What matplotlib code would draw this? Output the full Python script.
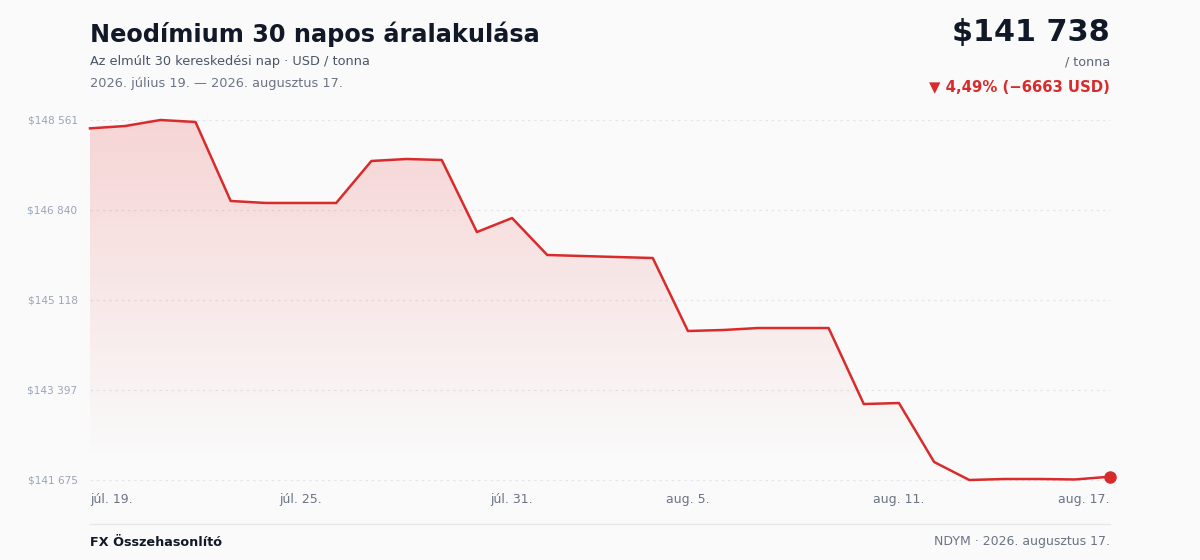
import numpy as np
import matplotlib.pyplot as plt
from matplotlib.patches import Polygon

# 30 trading days, USD / tonne
dates = ["júl. 19.", "júl. 20.", "júl. 21.", "júl. 22.", "júl. 23.", "júl. 24.",
         "júl. 25.", "júl. 26.", "júl. 27.", "júl. 28.", "júl. 29.", "júl. 30.",
         "júl. 31.", "aug. 1.", "aug. 2.", "aug. 3.", "aug. 4.", "aug. 5.",
         "aug. 6.", "aug. 7.", "aug. 8.", "aug. 9.", "aug. 10.", "aug. 11.",
         "aug. 12.", "aug. 13.", "aug. 14.", "aug. 15.", "aug. 16.", "aug. 17."]
prices = [148401, 148446, 148561, 148523, 147012, 146974, 146974, 146974,
          147777, 147815, 147796, 146418, 146686, 145979, 145959, 145940,
          145921, 144525, 144544, 144582, 144582, 144582, 143128, 143147,
          142019, 141675, 141694, 141694, 141685, 141738]
tick_idx = [0, 6, 12, 17, 23, 29]
y_ticks = [141675, 143397, 145118, 146840, 148561]

RED = "#d92b2b"
BG = "#fafafa"
DARK = "#111827"
GRAY = "#5b6477"
LIGHT = "#9aa5b8"

fig = plt.figure(figsize=(12, 5.6), dpi=100, facecolor=BG)
ax = fig.add_axes([0.075, 1 - 480 / 560, 0.85, 360 / 560])
ax.set_facecolor(BG)

x = np.arange(len(prices))
lo, hi = min(prices), max(prices)
ax.set_xlim(0, len(prices) - 1)
ax.set_ylim(lo, hi)

# gradient fill under the line, fading out near the bottom
grad = np.zeros((256, 1, 4))
grad[:, 0, :3] = (0.9, 0.2, 0.2)
alpha = np.clip(np.linspace(0.19, -0.012, 256), 0, None)
grad[:, 0, 3] = alpha
img = ax.imshow(grad, aspect="auto", extent=[0, len(prices) - 1, lo, hi],
                origin="upper", zorder=1)
poly = Polygon(np.column_stack([np.r_[x, x[-1], 0], np.r_[prices, lo, lo]]),
               closed=True, transform=ax.transData, facecolor="none", edgecolor="none")
ax.add_patch(poly)
img.set_clip_path(poly)

for v in y_ticks:
    ax.axhline(v, color="#e3e5ea", lw=0.9, ls=(0, (2, 3)), zorder=0.5, clip_on=False)

ax.plot(x, prices, color=RED, lw=1.8, zorder=3, clip_on=False, solid_joinstyle="round")
ax.plot(x[-1], prices[-1], "o", color=RED, ms=8, zorder=4, clip_on=False)

for s in ax.spines.values():
    s.set_visible(False)
ax.set_yticks(y_ticks)
ax.set_yticklabels([f"${v:,}".replace(",", " ") for v in y_ticks], color=LIGHT, fontsize=7.6)
ax.tick_params(axis="y", length=0, pad=9)
ax.set_xticks(tick_idx)
ax.set_xticklabels([dates[i] for i in tick_idx], color="#6b7385", fontsize=9)
ax.tick_params(axis="x", length=0, pad=9)
labels = ax.get_xticklabels()
labels[0].set_ha("left")
labels[-1].set_ha("right")

# header
fig.text(90 / 1200, 1 - 34 / 560, "Neodímium 30 napos áralakulása", fontsize=17.3,
         fontweight="bold", color=DARK, va="center")
fig.text(90 / 1200, 1 - 62 / 560, "Az elmúlt 30 kereskedési nap · USD / tonna",
         fontsize=9.3, color="#4b5568", va="center")
fig.text(90 / 1200, 1 - 84 / 560, "2026. július 19. — 2026. augusztus 17.",
         fontsize=9.3, color="#6b7385", va="center")
fig.text(1110 / 1200, 1 - 33 / 560, f"${prices[-1]:,}".replace(",", " "), fontsize=21.8,
         fontweight="bold", color=DARK, ha="right", va="center")
fig.text(1110 / 1200, 1 - 62 / 560, "/ tonna", fontsize=9.2, color=GRAY, ha="right", va="center")
change = prices[-1] - prices[0]
pct = change / prices[0] * 100
fig.text(1110 / 1200, 1 - 87 / 560,
         f"▼ {abs(pct):.2f}% (−{abs(change)} USD)".replace(".", ","),
         fontsize=10.7, fontweight="bold", color=RED, ha="right", va="center")

# footer
fig.add_artist(plt.Line2D([90 / 1200, 1110 / 1200], [1 - 524 / 560] * 2,
                          color="#e5e7eb", lw=1))
fig.text(90 / 1200, 1 - 542 / 560, "FX Összehasonlító", fontsize=9.2, fontweight="bold",
         color=DARK, va="center")
fig.text(1110 / 1200, 1 - 542 / 560, "NDYM · 2026. augusztus 17.", fontsize=9,
         color="#6b7385", ha="right", va="center")

fig.savefig("out.png", dpi=100, facecolor=BG)
